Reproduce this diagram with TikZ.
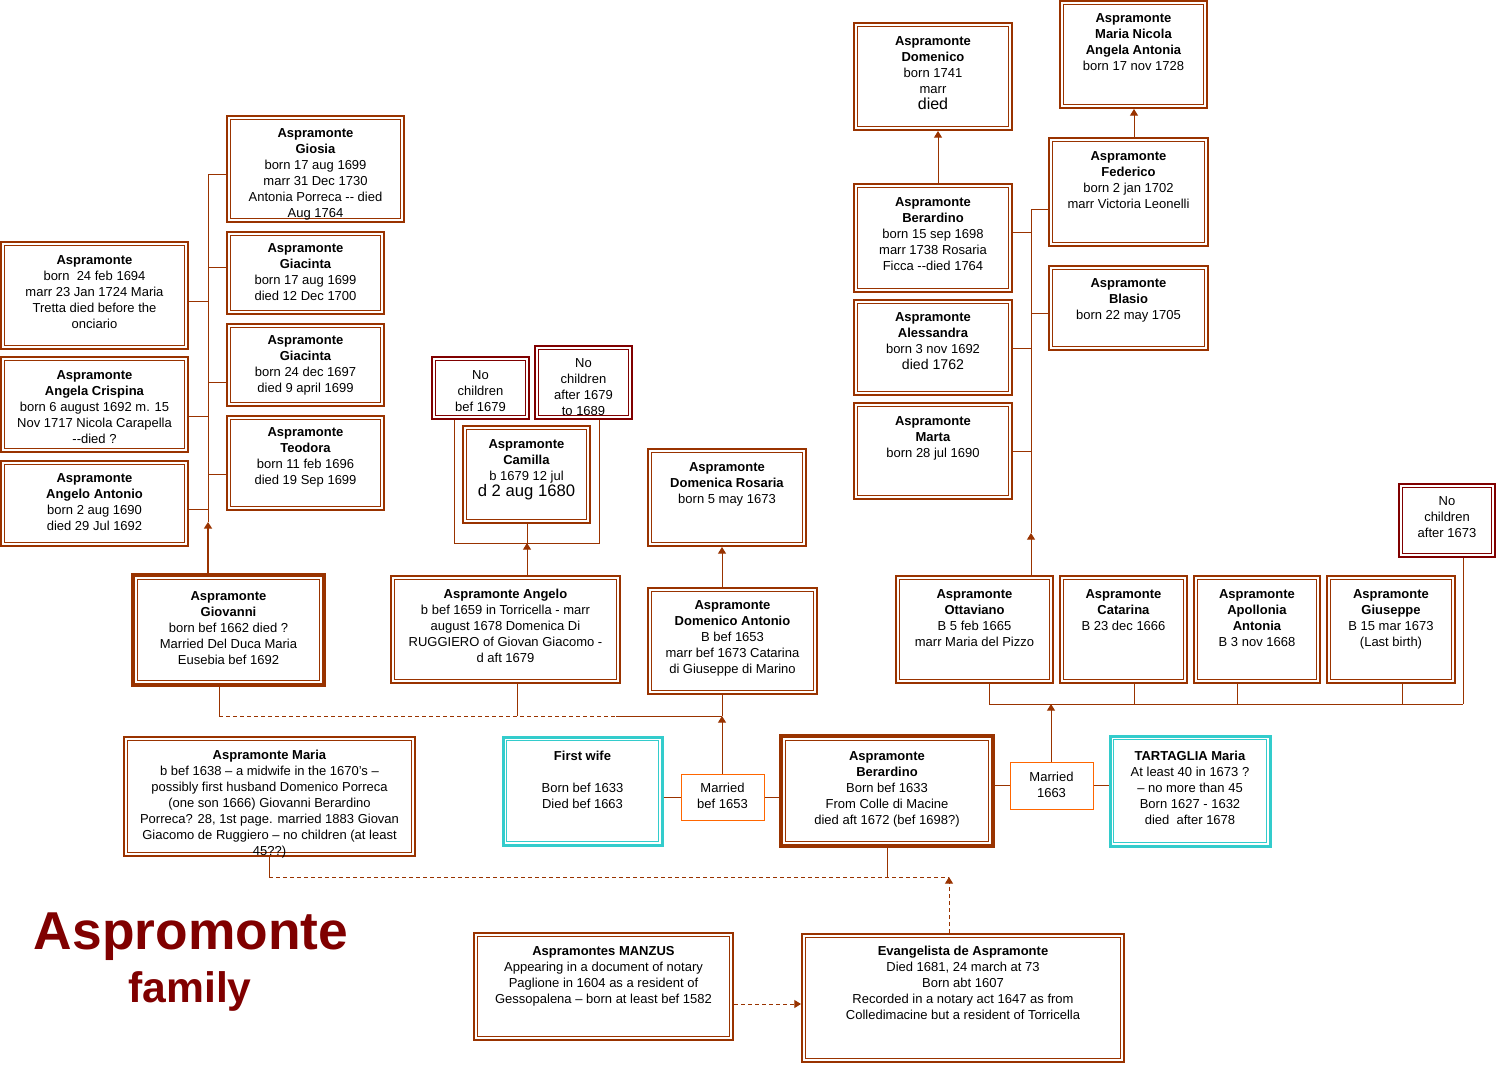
\documentclass[tikz,border=0pt]{standalone}
\usepackage{fontspec}
\setmainfont{Liberation Sans}
\usetikzlibrary{fit,arrows.meta,calc}
\definecolor{brn}{RGB}{153,51,0}
\definecolor{cyn}{RGB}{51,204,204}
\definecolor{orn}{RGB}{255,102,0}
\definecolor{dred}{RGB}{128,0,0}
\tikzset{
  dbl/.style n args={3}{draw=#1, line width=#2, inner sep=0pt, fill=white,
    path picture={\draw[#1, line width=0.75pt]
      ([shift={(#3,#3)}]path picture bounding box.south west) rectangle
      ([shift={(-#3,-#3)}]path picture bounding box.north east);}},
  regbox/.style={dbl={brn}{1.5pt}{2.6pt}},
  thickbox/.style={dbl={brn}{3pt}{3.6pt}},
  cyanbox/.style={dbl={cyn}{2.25pt}{2.6pt}},
  nobox/.style={dbl={dred}{1.5pt}{2.6pt}},
  marbox/.style={draw=orn, line width=0.75pt, inner sep=0pt, fill=white},
  txt/.style={align=center, inner sep=0pt, font=\fontsize{9.75}{12}\selectfont, text=black},
  conn/.style={draw=brn, line width=0.75pt},
  dsh/.style={conn, dash pattern=on 3pt off 2.25pt},
  >={Triangle[width=6pt,length=5pt]}
}
\newcommand\famb[8]{%
  \pgfmathsetmacro\famcx{(#2+#4)/2}%
  \pgfmathsetmacro\famty{#7-5}%
  \coordinate (#1-a) at (#2,#3);
  \coordinate (#1-b) at (#4,#5);
  \node[#6, fit=(#1-a)(#1-b)] (#1) {};
  \node[txt, anchor=north] (#1-t) at (\famcx,\famty) {#8};
}
\begin{document}
\begin{tikzpicture}[x=0.75pt,y=-0.75pt]
\path[fill=white] (0,0) rectangle (1496,1064);
\useasboundingbox (0,0) rectangle (1496,1064);

% ---- left branch (children of Giovanni)
\famb{giosia}{227}{116}{404}{222}{regbox}{133}{\textbf{Aspramonte}\\\textbf{Giosia}\\born 17 aug 1699\\marr 31 Dec 1730\\Antonia Porreca -{}- died\\Aug 1764}
\famb{giac1}{227}{232}{384}{314}{regbox}{248}{\textbf{Aspramonte}\\\textbf{Giacinta}\\born 17 aug 1699\\died 12 Dec 1700}
\famb{giac2}{227}{324}{384}{406}{regbox}{340}{\textbf{Aspramonte}\\\textbf{Giacinta}\\born 24 dec 1697\\died 9 april 1699}
\famb{teodora}{227}{416}{384}{510}{regbox}{432}{\textbf{Aspramonte}\\\textbf{Teodora}\\born 11 feb 1696\\died 19 Sep 1699}
\famb{asp94}{1}{242}{188}{349}{regbox}{260}{\textbf{Aspramonte}\\born\ \ 24 feb 1694\\marr 23 Jan 1724 Maria\\Tretta died before the\\onciario}
\famb{angela}{1}{357}{188}{452}{regbox}{375}{\textbf{Aspramonte}\\\textbf{Angela Crispina}\\born 6 august 1692 m. 15\\Nov 1717 Nicola Carapella\\-{}-died ?}
\famb{angantonio}{1}{461}{188}{546}{regbox}{478}{\textbf{Aspramonte}\\\textbf{Angelo Antonio}\\born 2 aug 1690\\died 29 Jul 1692}
\famb{giovanni}{133}{575}{324}{685}{thickbox}{596}{\textbf{Aspramonte}\\\textbf{Giovanni}\\born bef 1662 died ?\\Married Del Duca Maria\\Eusebia bef 1692}

% ---- Angelo / Camilla
\famb{angelo}{391}{576}{620}{683}{regbox}{594}{\textbf{Aspramonte Angelo}\\b bef 1659 in Torricella - marr\\august 1678 Domenica Di\\RUGGIERO of Giovan Giacomo -\\d aft 1679}
\famb{nc1}{432}{357}{529}{419}{nobox}{375}{No\\children\\bef 1679}
\famb{nc2}{535}{346}{632}{419}{nobox}{363}{No\\children\\after 1679\\to 1689}
\famb{camilla}{463}{426}{590}{523}{regbox}{444}{\textbf{Aspramonte}\\\textbf{Camilla}\\b 1679 12 jul\\{\fontsize{12.5}{15}\selectfont d 2 aug 1680}}
\famb{rosaria}{648}{449}{806}{546}{regbox}{467}{\textbf{Aspramonte}\\\textbf{Domenica Rosaria}\\born 5 may 1673}
\famb{domant}{648}{588}{817}{694}{regbox}{605}{\textbf{Aspramonte}\\\textbf{Domenico Antonio}\\B bef 1653\\marr bef 1673 Catarina\\di Giuseppe di Marino}

% ---- parents row
\famb{maria}{124}{737}{415}{856}{regbox}{755}{\textbf{Aspramonte Maria}\\b bef 1638 – a midwife in the 1670's –\\possibly first husband Domenico Porreca\\(one son 1666) Giovanni Berardino\\Porreca? 28, 1st page. married 1883 Giovan\\Giacomo de Ruggiero – no children (at least\\45??)}
\famb{firstwife}{503}{737}{662}{845}{cyanbox}{756}{\textbf{First wife}\\[12pt]Born bef 1633\\Died bef 1663}
\famb{married1}{681}{774}{764}{820}{marbox}{788}{Married\\bef 1653}
\famb{berardino}{781}{736}{993}{846}{thickbox}{756}{\textbf{Aspramonte}\\\textbf{Berardino}\\Born bef 1633\\From Colle di Macine\\died aft 1672 (bef 1698?)}
\famb{married2}{1010}{762}{1093}{809}{marbox}{777}{Married\\1663}
\famb{tartaglia}{1110}{736}{1270}{846}{cyanbox}{756}{\textbf{TARTAGLIA Maria}\\At least 40 in 1673 ?\\– no more than 45\\Born 1627 - 1632\\died\ \ after 1678}

% ---- children of Berardino and Tartaglia
\famb{ottaviano}{896}{576}{1053}{683}{regbox}{594}{\textbf{Aspramonte}\\\textbf{Ottaviano}\\B 5 feb 1665\\marr Maria del Pizzo}
\famb{catarina}{1060}{576}{1187}{683}{regbox}{594}{\textbf{Aspramonte}\\\textbf{Catarina}\\B 23 dec 1666}
\famb{apollonia}{1194}{576}{1320}{683}{regbox}{594}{\textbf{Aspramonte}\\\textbf{Apollonia}\\\textbf{Antonia}\\B 3 nov 1668}
\famb{giuseppe}{1327}{576}{1455}{683}{regbox}{594}{\textbf{Aspramonte}\\\textbf{Giuseppe}\\B 15 mar 1673\\(Last birth)}
\famb{nc3}{1399}{484}{1495}{557}{nobox}{501}{No\\children\\after 1673}

% ---- children of Ottaviano
\famb{domenico}{854}{23}{1012}{130}{regbox}{41}{\textbf{Aspramonte}\\\textbf{Domenico}\\born 1741\\marr\\{\fontsize{12}{14}\selectfont died}}
\famb{marianicola}{1060}{1}{1207}{108}{regbox}{18}{\textbf{Aspramonte}\\\textbf{Maria Nicola}\\\textbf{Angela Antonia}\\born 17 nov 1728}
\famb{federico}{1049}{138}{1208}{246}{regbox}{156}{\textbf{Aspramonte}\\\textbf{Federico}\\born 2 jan 1702\\marr Victoria Leonelli}
\famb{berardino2}{854}{184}{1012}{292}{regbox}{202}{\textbf{Aspramonte}\\\textbf{Berardino}\\born 15 sep 1698\\marr 1738 Rosaria\\Ficca -{}-died 1764}
\famb{blasio}{1049}{266}{1208}{350}{regbox}{283}{\textbf{Aspramonte}\\\textbf{Blasio}\\born 22 may 1705}
\famb{alessandra}{854}{300}{1012}{395}{regbox}{317}{\textbf{Aspramonte}\\\textbf{Alessandra}\\born 3 nov 1692\\{\fontsize{10.6}{13}\selectfont died 1762}}
\famb{marta}{854}{403}{1012}{499}{regbox}{421}{\textbf{Aspramonte}\\\textbf{Marta}\\born 28 jul 1690}

% ---- ancestors
\famb{manzus}{474}{933}{733}{1040}{regbox}{951}{\textbf{Aspramontes MANZUS}\\Appearing in a document of notary\\Paglione in 1604 as a resident of\\Gessopalena – born at least bef 1582}
\famb{evangelista}{802}{934}{1124}{1062}{regbox}{951}{\textbf{Evangelista de Aspramonte}\\Died 1681, 24 march at 73\\Born abt 1607\\Recorded in a notary act 1647 as from\\Colledimacine but a resident of Torricella}

% ---- title
\node[anchor=base, text=dred, font=\fontsize{40}{40}\selectfont\bfseries] (title1) at (191,949) {Aspromonte};
\node[anchor=base, text=dred, font=\fontsize{32}{32}\selectfont\bfseries] (title2) at (190,1002) {family};

% ---- connectors: left bus
\coordinate (bl1) at (208,174);
\coordinate (bl2) at (208,267);
\coordinate (bl3) at (208,382);
\coordinate (bl4) at (208,474);
\coordinate (bl5) at (208,301);
\coordinate (bl6) at (208,416);
\coordinate (bl7) at (208,509);
\coordinate (blb) at (208,522);
\draw[conn] (bl1) -- (blb);
\draw[conn, line width=1.5pt, ->] (giovanni.north -| blb) -- (blb);
\draw[conn] (bl1) -- (bl1 -| giosia.west);
\draw[conn] (bl2) -- (bl2 -| giac1.west);
\draw[conn] (bl3) -- (bl3 -| giac2.west);
\draw[conn] (bl4) -- (bl4 -| teodora.west);
\draw[conn] (asp94.east |- bl5) -- (bl5);
\draw[conn] (angela.east |- bl6) -- (bl6);
\draw[conn] (angantonio.east |- bl7) -- (bl7);

% Camilla group
\coordinate (cg1) at (454,543);
\coordinate (cg2) at (599,543);
\coordinate (cgm) at (527,543);
\draw[conn] (nc1.south -| cg1) -- (cg1) -- (cg2) -- (nc2.south -| cg2);
\draw[conn] (camilla.south -| cgm) -- (cgm);
\draw[conn, ->] (angelo.north -| cgm) -- (cgm);

% middle bus
\coordinate (mx) at (722,716);
\coordinate (m1) at (219,716);
\coordinate (m2) at (517,716);
\coordinate (m3) at (616,716);
\draw[conn, ->] (domant.north -| mx) -- (rosaria.south -| mx);
\draw[conn] (giovanni.south -| m1) -- (m1);
\draw[conn] (angelo.south -| m2) -- (m2);
\draw[dsh] (m1) -- (m3);
\draw[conn] (m3) -- (mx);
\draw[conn] (domant.south -| mx) -- (mx);
\draw[conn, ->] (married1.north -| mx) -- (mx);

% marriages
\draw[conn] (married1.west -| firstwife.east) -- (married1.west);
\draw[conn] (married1.east) -- (married1.east -| berardino.west);
\draw[conn] (married2.west -| berardino.east) -- (married2.west);
\draw[conn] (married2.east) -- (married2.east -| tartaglia.west);

% right bus
\coordinate (rb) at (1051,704);
\coordinate (rb1) at (989,704);
\coordinate (rb2) at (1134,704);
\coordinate (rb3) at (1237,704);
\coordinate (rb4) at (1402,704);
\coordinate (rb5) at (1463,704);
\draw[conn, ->] (married2.north -| rb) -- (rb);
\draw[conn] (rb1) -- (rb5);
\draw[conn] (ottaviano.south -| rb1) -- (rb1);
\draw[conn] (catarina.south -| rb2) -- (rb2);
\draw[conn] (apollonia.south -| rb3) -- (rb3);
\draw[conn] (giuseppe.south -| rb4) -- (rb4);
\draw[conn] (nc3.south -| rb5) -- (rb5);

% upper right bus
\coordinate (ub1) at (1031,209);
\coordinate (ub2) at (1031,232);
\coordinate (ub3) at (1031,313);
\coordinate (ub4) at (1031,348);
\coordinate (ub5) at (1031,451);
\coordinate (ubb) at (1031,533);
\draw[conn] (ub1) -- (ubb);
\draw[conn, ->] (ottaviano.north -| ubb) -- (ubb);
\draw[conn] (ub1) -- (ub1 -| federico.west);
\draw[conn] (berardino2.east |- ub2) -- (ub2);
\draw[conn] (ub3) -- (ub3 -| blasio.west);
\draw[conn] (alessandra.east |- ub4) -- (ub4);
\draw[conn] (marta.east |- ub5) -- (ub5);
\coordinate (dx) at (938,0);
\coordinate (fx) at (1134,0);
\draw[conn, ->] (berardino2.north -| dx) -- (domenico.south -| dx);
\draw[conn, ->] (federico.north -| fx) -- (marianicola.south -| fx);

% lower connectors
\coordinate (l1) at (269,877);
\coordinate (l2) at (887,877);
\coordinate (l3) at (949,877);
\coordinate (ev) at (0,1004);
\draw[conn] (maria.south -| l1) -- (l1);
\draw[conn] (berardino.south -| l2) -- (l2);
\draw[dsh] (l1) -- (l3);
\draw[dsh, ->] (evangelista.north -| l3) -- (l3);
\draw[dsh, ->] (manzus.east |- ev) -- (evangelista.west |- ev);
\end{tikzpicture}
\end{document}
